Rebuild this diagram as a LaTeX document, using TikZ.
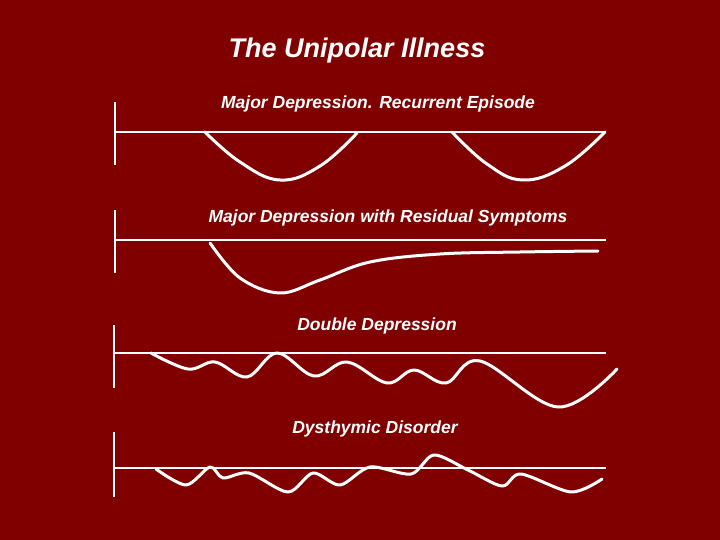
\documentclass[tikz,border=0pt]{standalone}
\usepackage{fontspec}
\setmainfont{Liberation Sans}
\begin{document}
\begin{tikzpicture}[x=1pt,y=-1pt,
  ln/.style={white,line width=2.8pt},
  cv/.style={white,line width=3pt,line cap=round,line join=round},
  lab/.style={white,font=\bfseries\itshape\fontsize{17.5}{20}\selectfont,inner sep=0pt}]
\fill[fill={rgb,255:red,128;green,0;blue,0}] (0,0) rectangle (720,540);
\useasboundingbox (0,0) rectangle (720,540);
\node[white,font=\bfseries\itshape\fontsize{27}{30}\selectfont] (title) at (357,51) {The Unipolar Illness};
% panel 1
\node[lab] (l1) at (378,104) {Major Depression. Recurrent Episode};
\coordinate (a1) at (115,102); \coordinate (a2) at (115,165);
\draw[ln] (a1) -- (a2);
\coordinate (b1) at (115,132); \coordinate (b2) at (606,132);
\draw[ln] (b1) -- (b2);
\draw[cv] plot[smooth,tension=0.7] coordinates {(205,132) (240,162) (280,180) (320,166) (357,133)};
\draw[cv] plot[smooth,tension=0.7] coordinates {(452,132) (487,164) (523,180) (565,166) (605,132)};
% panel 2
\node[lab] (l2) at (388,218) {Major Depression with Residual Symptoms};
\draw[ln] (115,210) -- (115,273);
\draw[ln] (115,240) -- (606,240);
\draw[cv] plot[smooth,tension=0.6] coordinates {(210,243) (240,278) (280,293) (320,280) (370,262) (440,254) (520,252) (598,251)};
% panel 3
\node[lab] (l3) at (377,326) {Double Depression};
\draw[ln] (114,325) -- (114,388);
\draw[ln] (114,353) -- (606,353);
\draw[cv] plot[smooth,tension=0.6] coordinates {(151,353) (188,369) (215,362) (247,377) (277,353) (314,376) (347,362) (387,383) (414,370) (446,383) (480,361) (558,407) (617,369)};
% panel 4
\node[lab] (l4) at (375,429) {Dysthymic Disorder};
\draw[ln] (114,432) -- (114,497);
\draw[ln] (114,468) -- (606,468);
\draw[cv] plot[smooth,tension=0.5] coordinates {(156,469) (186,485) (210,467) (223,478) (249,473) (288,492) (313,473) (340,485) (370,467) (411,474) (434,455) (468,470) (502,486) (521,474) (571,492) (602,479)};
\end{tikzpicture}
\end{document}
